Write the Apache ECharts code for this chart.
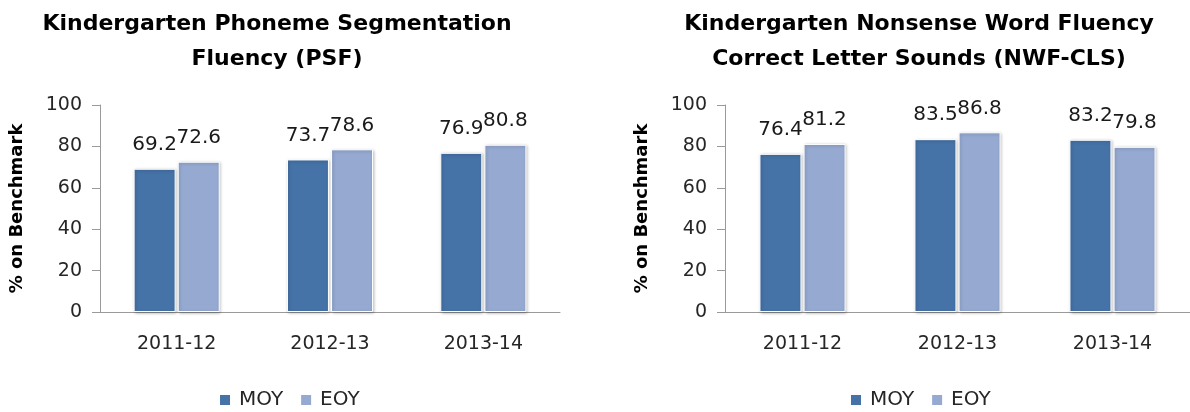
<!DOCTYPE html>
<html>
<head>
<meta charset="utf-8">
<script src="https://cdn.jsdelivr.net/npm/echarts@6/dist/echarts.min.js"></script>
<style>
  html, body { margin: 0; padding: 0; background: #fff; }
  #chart { width: 1190px; height: 412px; }
</style>
</head>
<body>
<div id="chart"></div>
<script>
const categories = ['2011-12', '2012-13', '2013-14']
const psfMoy = [69.2, 73.7, 76.9]
const psfEoy = [72.6, 78.6, 80.8]
const nwfMoy = [76.4, 83.5, 83.2]
const nwfEoy = [81.2, 86.8, 79.8]
const yTicks = { min: 0, max: 100, interval: 20 }

const FONT = 'DejaVu Sans'
const MOY_COLOR = '#4572a7'
const EOY_COLOR = '#95a9d1'
const AXIS_COLOR = '#9a9a9a'

const myChart = echarts.init(document.getElementById('chart'))

function xAxis (grid) {
  return {
    type: 'category',
    gridIndex: grid,
    data: categories,
    axisLine: { lineStyle: { color: AXIS_COLOR, width: 1 } },
    axisTick: { length: 7, lineStyle: { color: AXIS_COLOR } },
    axisLabel: { color: '#262626', fontFamily: FONT, fontSize: 19, margin: 23 }
  }
}

function yAxis (grid) {
  return {
    type: 'value',
    gridIndex: grid,
    min: yTicks.min,
    max: yTicks.max,
    interval: yTicks.interval,
    name: '% on Benchmark',
    nameLocation: 'middle',
    nameGap: 74,
    nameTextStyle: { color: '#000', fontFamily: FONT, fontSize: 18, fontWeight: 'bold' },
    splitLine: { show: false },
    axisLine: { show: true, lineStyle: { color: AXIS_COLOR, width: 1 } },
    axisTick: { show: true, length: 8, lineStyle: { color: AXIS_COLOR } },
    axisLabel: { color: '#262626', fontFamily: FONT, fontSize: 19, margin: 18 }
  }
}

function bars (name, data, color, grid) {
  return {
    name: name,
    type: 'bar',
    xAxisIndex: grid,
    yAxisIndex: grid,
    data: data,
    barWidth: 42,
    barGap: '5%',
    itemStyle: {
      color: color,
      borderColor: '#fff',
      borderWidth: 1,
      shadowColor: 'rgba(0,0,0,0.25)',
      shadowBlur: 3,
      shadowOffsetX: 1,
      shadowOffsetY: 1
    },
    label: {
      show: true,
      position: 'top',
      distance: 14,
      color: '#1a1a1a',
      fontFamily: FONT,
      fontSize: 20
    }
  }
}

const legendBase = {
  icon: 'rect',
  itemWidth: 12,
  itemHeight: 12,
  itemGap: 16,
  textStyle: { color: '#262626', fontFamily: FONT, fontSize: 20, padding: [0, 0, 0, 3] },
  data: ['MOY', 'EOY']
}

const titleStyle = { color: '#000', fontFamily: FONT, fontSize: 22, fontWeight: 'bold', lineHeight: 35 }

const option = {
  animation: false,
  backgroundColor: '#fff',
  title: [
    { text: 'Kindergarten Phoneme Segmentation\nFluency (PSF)', left: 272, top: 2, textAlign: 'center', textStyle: titleStyle },
    { text: 'Kindergarten Nonsense Word Fluency\nCorrect Letter Sounds (NWF-CLS)', left: 914, top: 2, textAlign: 'center', textStyle: titleStyle }
  ],
  legend: [
    Object.assign({ left: 213, top: 385 }, legendBase),
    Object.assign({ left: 844, top: 385 }, legendBase)
  ],
  grid: [
    { left: 100, top: 105, width: 460, height: 207 },
    { left: 725, top: 105, width: 471, height: 207 }
  ],
  xAxis: [xAxis(0), xAxis(1)],
  yAxis: [yAxis(0), yAxis(1)],
  series: [
    bars('MOY', psfMoy, MOY_COLOR, 0),
    bars('EOY', psfEoy, EOY_COLOR, 0),
    bars('MOY', nwfMoy, MOY_COLOR, 1),
    bars('EOY', nwfEoy, EOY_COLOR, 1)
  ]
}

myChart.setOption(option, true)
</script>
</body>
</html>
